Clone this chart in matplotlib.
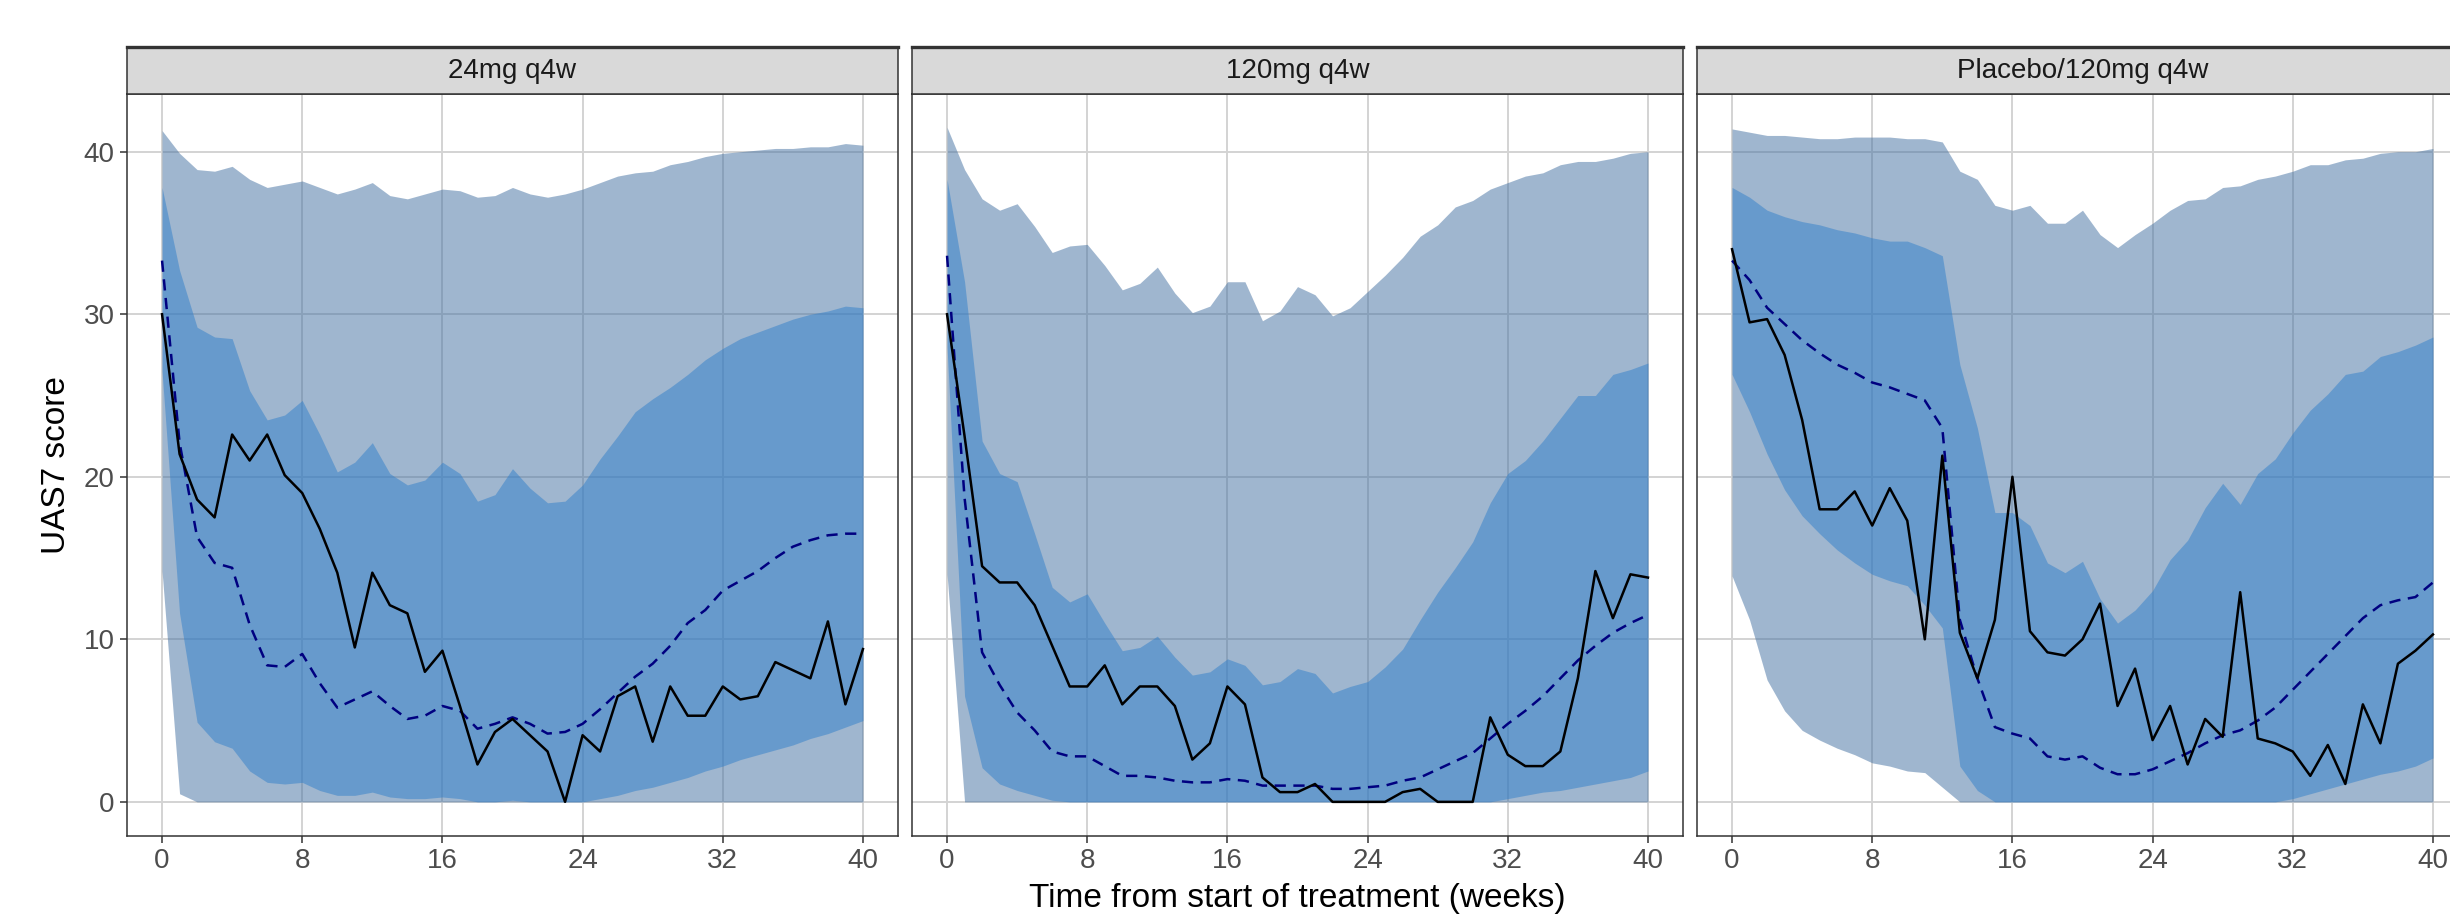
import numpy as np
import matplotlib
matplotlib.use("Agg")
import matplotlib.pyplot as plt

plt.rcParams['font.family'] = ['Liberation Sans', 'DejaVu Sans']

weeks = np.arange(0, 41)
panels = ["24mg q4w", "120mg q4w", "Placebo/120mg q4w"]
x_ticks = [0, 8, 16, 24, 32, 40]
y_ticks = [0, 10, 20, 30, 40]

# 24mg q4w
outer_hi_1 = [41.3, 39.9, 38.9, 38.8, 39.1, 38.3, 37.8, 38.0, 38.2, 37.8,
              37.4, 37.7, 38.1, 37.3, 37.1, 37.4, 37.7, 37.6, 37.2, 37.3,
              37.8, 37.4, 37.2, 37.4, 37.7, 38.1, 38.5, 38.7, 38.8, 39.2,
              39.4, 39.7, 39.9, 40.0, 40.1, 40.2, 40.2, 40.3, 40.3, 40.5, 40.4]
inner_hi_1 = [37.8, 32.7, 29.2, 28.6, 28.5, 25.3, 23.5, 23.8, 24.7, 22.6,
              20.3, 20.9, 22.1, 20.2, 19.5, 19.8, 20.9, 20.2, 18.5, 18.9,
              20.5, 19.3, 18.4, 18.5, 19.5, 21.1, 22.5, 24.0, 24.8, 25.5,
              26.3, 27.2, 27.9, 28.5, 28.9, 29.3, 29.7, 30.0, 30.2, 30.5, 30.4]
inner_lo_1 = [26.5, 11.6, 4.9, 3.7, 3.3, 1.9, 1.2, 1.1, 1.2, 0.7,
              0.4, 0.4, 0.6, 0.3, 0.2, 0.2, 0.3, 0.2, 0.0, 0.0,
              0.1, 0.0, 0.0, 0.0, 0.0, 0.2, 0.4, 0.7, 0.9, 1.2,
              1.5, 1.9, 2.2, 2.6, 2.9, 3.2, 3.5, 3.9, 4.2, 4.6, 5.0]
outer_lo_1 = [14.2, 0.5, 0, 0, 0, 0, 0, 0, 0, 0,
              0, 0, 0, 0, 0, 0, 0, 0, 0, 0,
              0, 0, 0, 0, 0, 0, 0, 0, 0, 0,
              0, 0, 0, 0, 0, 0, 0, 0, 0, 0, 0]
obs_1 = [30.0, 21.4, 18.6, 17.5, 22.6, 21.0, 22.6, 20.1, 19.0, 16.8,
         14.1, 9.5, 14.1, 12.1, 11.6, 8.0, 9.3, 5.9, 2.3, 4.3,
         5.1, 4.1, 3.1, 0.0, 4.1, 3.1, 6.5, 7.1, 3.7, 7.1,
         5.3, 5.3, 7.1, 6.3, 6.5, 8.6, 8.1, 7.6, 11.1, 6.0, 9.4]
pred_1 = [33.3, 22.1, 16.3, 14.7, 14.4, 10.9, 8.4, 8.3, 9.1, 7.3,
          5.8, 6.3, 6.8, 5.9, 5.1, 5.3, 5.9, 5.6, 4.5, 4.8,
          5.2, 4.8, 4.2, 4.3, 4.8, 5.7, 6.7, 7.7, 8.5, 9.6,
          11.0, 11.8, 13.0, 13.6, 14.2, 15.0, 15.7, 16.1, 16.4, 16.5, 16.5]

# 120mg q4w
outer_hi_2 = [41.5, 38.9, 37.1, 36.4, 36.8, 35.4, 33.8, 34.2, 34.3, 33.0,
              31.5, 31.9, 32.9, 31.3, 30.1, 30.5, 32.0, 32.0, 29.6, 30.2,
              31.7, 31.2, 29.9, 30.4, 31.4, 32.4, 33.5, 34.8, 35.5, 36.6,
              37.0, 37.7, 38.1, 38.5, 38.7, 39.2, 39.4, 39.4, 39.6, 39.9, 40.0]
inner_hi_2 = [38.3, 32.0, 22.2, 20.2, 19.7, 16.5, 13.2, 12.3, 12.8, 11.0,
              9.3, 9.5, 10.2, 8.9, 7.8, 8.0, 8.8, 8.4, 7.2, 7.4,
              8.2, 7.9, 6.7, 7.1, 7.4, 8.3, 9.4, 11.2, 12.9, 14.4,
              16.0, 18.4, 20.2, 21.0, 22.2, 23.6, 25.0, 25.0, 26.3, 26.6, 27.0]
inner_lo_2 = [28.0, 6.5, 2.1, 1.1, 0.7, 0.4, 0.1, 0, 0, 0,
              0, 0, 0, 0, 0, 0, 0, 0, 0, 0,
              0, 0, 0, 0, 0, 0, 0, 0, 0, 0,
              0, 0, 0.2, 0.4, 0.6, 0.7, 0.9, 1.1, 1.3, 1.5, 1.9]
outer_lo_2 = [14.0, 0, 0, 0, 0, 0, 0, 0, 0, 0,
              0, 0, 0, 0, 0, 0, 0, 0, 0, 0,
              0, 0, 0, 0, 0, 0, 0, 0, 0, 0,
              0, 0, 0, 0, 0, 0, 0, 0, 0, 0, 0]
obs_2 = [30.0, 22.5, 14.5, 13.5, 13.5, 12.1, 9.6, 7.1, 7.1, 8.4,
         6.0, 7.1, 7.1, 5.9, 2.6, 3.6, 7.1, 6.0, 1.5, 0.6,
         0.6, 1.1, 0.0, 0.0, 0.0, 0.0, 0.6, 0.8, 0.0, 0.0,
         0.0, 5.2, 2.9, 2.2, 2.2, 3.1, 7.6, 14.2, 11.3, 14.0, 13.8]
pred_2 = [33.6, 18.7, 9.2, 7.2, 5.5, 4.4, 3.1, 2.8, 2.8, 2.2,
          1.6, 1.6, 1.5, 1.3, 1.2, 1.2, 1.4, 1.3, 1.0, 1.0,
          1.0, 1.0, 0.8, 0.8, 0.9, 1.0, 1.3, 1.5, 2.0, 2.5,
          3.0, 3.9, 4.8, 5.6, 6.5, 7.6, 8.7, 9.6, 10.4, 11.0, 11.5]

# Placebo/120mg q4w
outer_hi_3 = [41.4, 41.2, 41.0, 41.0, 40.9, 40.8, 40.8, 40.9, 40.9, 40.9,
              40.8, 40.8, 40.6, 38.8, 38.3, 36.7, 36.4, 36.7, 35.6, 35.6,
              36.4, 34.9, 34.1, 34.9, 35.6, 36.4, 37.0, 37.1, 37.8, 37.9,
              38.3, 38.5, 38.8, 39.2, 39.2, 39.5, 39.6, 39.9, 40.0, 40.0, 40.2]
inner_hi_3 = [37.8, 37.2, 36.4, 36.0, 35.7, 35.5, 35.2, 35.0, 34.7, 34.5,
              34.5, 34.1, 33.6, 26.9, 23.0, 17.8, 17.8, 17.0, 14.7, 14.1,
              14.8, 12.5, 11.0, 11.8, 13.0, 14.9, 16.1, 18.1, 19.6, 18.3,
              20.2, 21.1, 22.7, 24.1, 25.1, 26.3, 26.5, 27.4, 27.7, 28.1, 28.6]
inner_lo_3 = [26.3, 24.0, 21.4, 19.2, 17.6, 16.5, 15.5, 14.7, 14.0, 13.6,
              13.3, 12.1, 10.7, 2.2, 0.7, 0, 0, 0, 0, 0,
              0, 0, 0, 0, 0, 0, 0, 0, 0, 0,
              0, 0, 0.2, 0.5, 0.8, 1.1, 1.4, 1.7, 1.9, 2.2, 2.7]
outer_lo_3 = [13.9, 11.2, 7.5, 5.6, 4.4, 3.8, 3.3, 2.9, 2.4, 2.2,
              1.9, 1.8, 0.9, 0, 0, 0, 0, 0, 0, 0,
              0, 0, 0, 0, 0, 0, 0, 0, 0, 0,
              0, 0, 0, 0, 0, 0, 0, 0, 0, 0, 0]
obs_3 = [34.0, 29.5, 29.7, 27.5, 23.5, 18.0, 18.0, 19.1, 17.0, 19.3,
         17.3, 10.0, 21.3, 10.4, 7.6, 11.2, 20.0, 10.5, 9.2, 9.0,
         10.0, 12.2, 5.9, 8.2, 3.8, 5.9, 2.3, 5.1, 4.0, 12.9,
         3.9, 3.6, 3.1, 1.6, 3.5, 1.1, 6.0, 3.6, 8.5, 9.3, 10.3]
pred_3 = [33.3, 32.1, 30.4, 29.4, 28.4, 27.6, 26.9, 26.4, 25.8, 25.5,
          25.1, 24.7, 23.0, 11.2, 7.6, 4.6, 4.2, 3.9, 2.8, 2.6,
          2.8, 2.1, 1.7, 1.7, 2.0, 2.5, 3.0, 3.6, 4.1, 4.4,
          5.0, 5.8, 6.9, 8.0, 9.1, 10.2, 11.3, 12.1, 12.4, 12.6, 13.5]

outer_lo = [outer_lo_1, outer_lo_2, outer_lo_3]
outer_hi = [outer_hi_1, outer_hi_2, outer_hi_3]
inner_lo = [inner_lo_1, inner_lo_2, inner_lo_3]
inner_hi = [inner_hi_1, inner_hi_2, inner_hi_3]
obs = [obs_1, obs_2, obs_3]
pred = [pred_1, pred_2, pred_3]

W, H = 2450, 918
fig = plt.figure(figsize=(W / 100, H / 100), dpi=100)

lefts = [127, 912, 1697]
pw = 771
bottom, top, strip_top = 836, 94, 47
border = '#333333'

for i in range(3):
    ax = fig.add_axes([lefts[i] / W, 1 - bottom / H, pw / W, (bottom - top) / H])
    ax.set_xlim(-2, 42)
    ax.set_ylim(-2.1, 43.55)
    ax.set_xticks(x_ticks)
    ax.set_yticks(y_ticks)
    ax.grid(True, color='#D3D3D3', lw=1.4, zorder=0)
    ax.set_axisbelow(True)

    ax.fill_between(weeks, outer_lo[i], outer_hi[i], color='#416FA1', alpha=0.5, lw=0, zorder=1)
    ax.fill_between(weeks, inner_lo[i], inner_hi[i], color='#307FCA', alpha=0.5, lw=0, zorder=2)
    ax.plot(weeks, obs[i], color='black', lw=1.8, zorder=4)
    ax.plot(weeks, pred[i], color='#000080', lw=1.8, ls=(0, (4.5, 3)), zorder=3)

    for s in ax.spines.values():
        s.set_color(border)
        s.set_linewidth(1.1)
    ax.tick_params(axis='both', colors=border, labelcolor='#4D4D4D', labelsize=20,
                   length=5, width=1.1, pad=4)
    if i > 0:
        ax.tick_params(axis='y', left=False, labelleft=False)
    else:
        ax.set_ylabel('UAS7 score', fontsize=24, labelpad=8)

    # facet strip
    sax = fig.add_axes([lefts[i] / W, 1 - top / H, pw / W, (top - strip_top) / H])
    sax.set_facecolor('#D9D9D9')
    sax.set_xticks([])
    sax.set_yticks([])
    for s in sax.spines.values():
        s.set_color(border)
        s.set_linewidth(1.1)
    sax.spines['top'].set_linewidth(2.4)
    sax.text(0.5, 0.5, panels[i], transform=sax.transAxes, ha='center', va='center',
             fontsize=20, color='#1A1A1A')

fig.text(1297 / W, 1 - 898 / H, 'Time from start of treatment (weeks)',
         ha='center', va='center', fontsize=24)

fig.savefig('out.png', dpi=100)
